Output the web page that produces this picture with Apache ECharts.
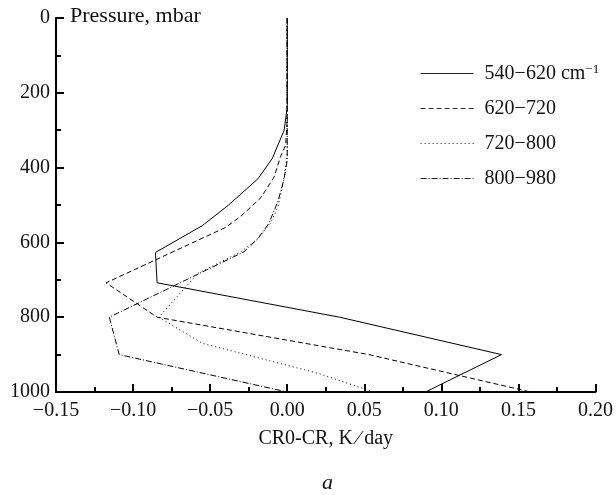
<!DOCTYPE html>
<html>
<head>
<meta charset="utf-8">
<script src="https://cdn.jsdelivr.net/npm/echarts@6/dist/echarts.min.js"></script>
<style>html,body{margin:0;padding:0;background:#fff;}#c{width:616px;height:495px;}</style>
</head>
<body>
<div id="c"></div>
<script>
// Series names
const seriesNames = ['540\u2212620 cm\u207B\u00B9', '620\u2212720', '720\u2212800', '800\u2212980'];
// Pressure levels (mbar) and CR0-CR values (K/day) for each band
const p540 = [0, 240, 300, 375, 430, 500, 555, 627, 708, 800, 900, 1000];
const x540 = [0, 0, -0.002, -0.0096, -0.019, -0.038, -0.055, -0.0855, -0.0844, 0.034, 0.139, 0.0897];
const p620 = [0, 270, 340, 370, 425, 480, 530, 560, 708, 800, 900, 1000];
const x620 = [0, 0, -0.001, -0.0043, -0.0085, -0.017, -0.030, -0.040, -0.1175, -0.0844, 0.053, 0.158];
const p720 = [0, 370, 450, 505, 550, 590, 625, 683, 800, 870, 950, 1000];
const x720 = [0, 0, -0.003, -0.006, -0.011, -0.019, -0.030, -0.058, -0.0833, -0.055, 0.020, 0.056];
const p800 = [0, 380, 430, 490, 550, 590, 625, 800, 900, 1000];
const x800 = [0, 0, -0.002, -0.006, -0.012, -0.019, -0.028, -0.1154, -0.109, 0];
// Axis ticks
const xTicks = [-0.15, -0.10, -0.05, 0.00, 0.05, 0.10, 0.15, 0.20];
const yTicks = [0, 200, 400, 600, 800, 1000];

const FONT = 'Liberation Serif';
function pairs(xs, ps) { return xs.map((v, i) => [v, ps[i]]); }
const styles = [
  { type: 'solid' },
  { type: [5, 3] },
  { type: [1, 3] },
  { type: [6, 2, 1, 2] }
];
const dataSets = [pairs(x540, p540), pairs(x620, p620), pairs(x720, p720), pairs(x800, p800)];

const chart = echarts.init(document.getElementById('c'), null, { renderer: 'canvas' });
chart.setOption({
  animation: false,
  backgroundColor: '#fff',
  grid: { left: 56, right: 14, top: 18, bottom: 103, containLabel: false },
  xAxis: {
    type: 'value', position: 'bottom',
    min: xTicks[0], max: xTicks[xTicks.length - 1], interval: 0.05,
    name: 'CR0-CR, K\u2009\u2215\u2009day', nameLocation: 'middle', nameGap: 37,
    nameTextStyle: { fontFamily: FONT, fontSize: 20, color: '#111' },
    axisLine: { show: true, onZero: false, lineStyle: { color: '#000', width: 2 } },
    axisTick: { show: true, inside: true, length: 8, lineStyle: { color: '#000', width: 2 } },
    minorTick: { show: true, splitNumber: 2, length: 5, lineStyle: { color: '#000', width: 2 } },
    splitLine: { show: false },
    axisLabel: {
      margin: 9, fontFamily: FONT, fontSize: 20, color: '#111',
      formatter: v => v.toFixed(2).replace('-', '\u2212')
    }
  },
  yAxis: {
    type: 'value', inverse: true, position: 'left',
    min: yTicks[0], max: yTicks[yTicks.length - 1], interval: 200,
    axisLine: { show: true, onZero: false, lineStyle: { color: '#000', width: 2 } },
    axisTick: { show: true, inside: true, length: 8, lineStyle: { color: '#000', width: 2 } },
    minorTick: { show: true, splitNumber: 2, length: 5, lineStyle: { color: '#000', width: 2 } },
    splitLine: { show: false },
    axisLabel: { margin: 6, fontFamily: FONT, fontSize: 20, color: '#111', formatter: v => String(v) }
  },
  legend: {
    show: true, orient: 'vertical', left: 415, top: 58,
    itemWidth: 53, itemHeight: 12, itemGap: 15,
    itemStyle: { opacity: 0 },
    lineStyle: { width: 1.2, color: '#222' },
    textStyle: {
      fontFamily: FONT, fontSize: 20, color: '#111', padding: [0, 0, 0, 6],
      rich: { sup: { fontFamily: FONT, fontSize: 13, verticalAlign: 'top', padding: [0, 0, 8, 0], color: '#111' } }
    },
    formatter: name => name.replace('\u207B\u00B9', '{sup|\u22121}')
  },
  graphic: [
    { type: 'text', left: 70, top: 5, style: { text: 'Pressure, mbar', font: '22px "Liberation Serif"', fill: '#111' } },
    { type: 'text', left: 322, top: 472, style: { text: 'a', font: 'italic 22px "Liberation Serif"', fill: '#111' } }
  ],
  series: dataSets.map((d, i) => ({
    name: seriesNames[i], type: 'line', data: d, showSymbol: false, symbol: 'none',
    lineStyle: Object.assign({ color: '#000', width: 1 }, styles[i]),
    itemStyle: { color: '#000' }
  }))
});
</script>
</body>
</html>
